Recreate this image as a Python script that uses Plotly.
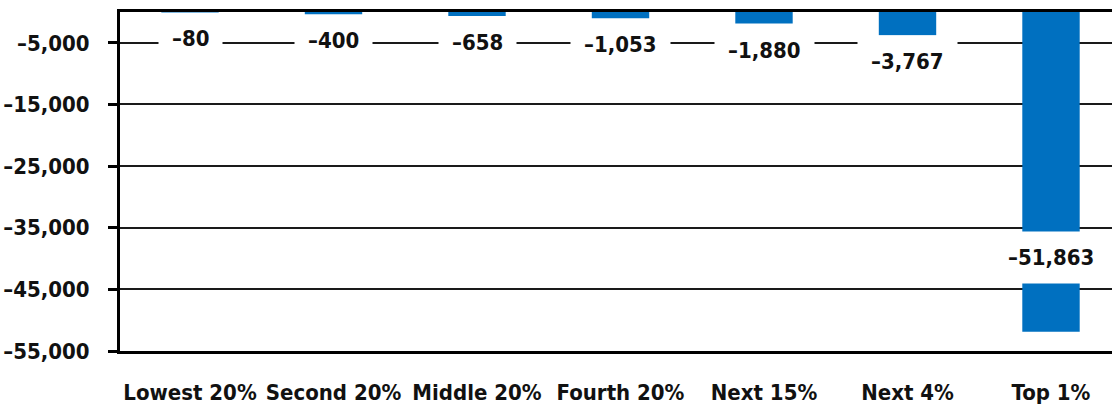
import plotly.graph_objects as go

# ---- data ----
categories = ["Lowest 20%", "Second 20%", "Middle 20%", "Fourth 20%", "Next 15%", "Next 4%", "Top 1%"]
values = [-80, -400, -658, -1053, -1880, -3767, -51863]
value_labels = ["\u201380", "\u2013400", "\u2013658", "\u20131,053", "\u20131,880", "\u20133,767", "\u201351,863"]
tick_values = [-5000, -15000, -25000, -35000, -45000, -55000]
tick_labels = ["\u20135,000", "\u201315,000", "\u201325,000", "\u201335,000", "\u201345,000", "\u201355,000"]

# ---- layout / style ----
W, H = 1112, 404
L, R, T, B = 120, 0, 12, 53
first_center_px = 190.0
step_px = 143.5
plot_w = W - L - R
x0 = -(first_center_px - L) / step_px
x1 = x0 + plot_w / step_px

BAR = "#0070C0"
INK = "#111111"
FONT = "DejaVu Sans Condensed, Liberation Sans, sans-serif"
FS = 22
inside_threshold = -20000
inside_offset = 12000

def f():
    return dict(family=FONT, size=FS, color=INK, weight="bold")

fig = go.Figure()
fig.add_trace(go.Bar(
    x=categories, y=values, width=0.4,
    marker=dict(color=BAR, line=dict(width=0)),
    hoverinfo="skip",
))

annotations = []
for c, v, t in zip(categories, values, value_labels):
    if v < inside_threshold:
        y, ya = v + inside_offset, "middle"
    else:
        y, ya = v, "top"
    annotations.append(dict(
        x=c, y=y, xref="x", yref="y", text=t, showarrow=False,
        yanchor=ya, xanchor="center", bgcolor="white", borderpad=13,
        font=f(),
    ))

fig.update_layout(
    width=W, height=H,
    margin=dict(l=L, r=R, t=T, b=B, pad=0, autoexpand=False),
    paper_bgcolor="white", plot_bgcolor="white",
    showlegend=False,
    font=f(),
    annotations=annotations,
    xaxis=dict(
        type="category", range=[x0, x1], automargin=False, tickangle=0,
        showline=True, mirror=True, linewidth=3, linecolor="black",
        showgrid=False, ticks="", ticklabelstandoff=20,
        tickfont=f(),
    ),
    yaxis=dict(
        range=[-55000, 0], tickvals=tick_values, ticktext=tick_labels,
        automargin=False,
        showline=True, linewidth=3, linecolor="black",
        ticks="outside", ticklen=9, tickwidth=3, tickcolor="black",
        ticklabelstandoff=14,
        showgrid=True, gridcolor="#1a1a1a", gridwidth=1.5,
        zeroline=False,
        tickfont=f(),
    ),
)

fig.write_html("out.html")
